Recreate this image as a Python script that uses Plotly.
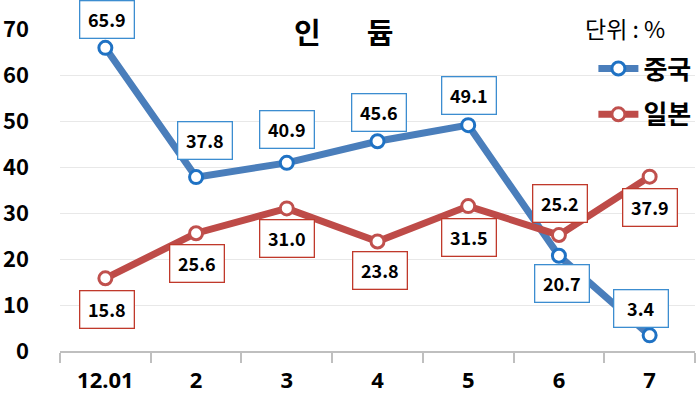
import plotly.graph_objects as go

categories = ["12.01", "2", "3", "4", "5", "6", "7"]
china = [65.9, 37.8, 40.9, 45.6, 49.1, 20.7, 3.4]
japan = [15.8, 25.6, 31.0, 23.8, 31.5, 25.2, 37.9]
y_ticks = [0, 10, 20, 30, 40, 50, 60, 70]

# label offsets (pixels) relative to each point
china_off = [(2, 28), (9, 37), (0, 33), (1, 29), (1, 30), (3, -28), (-9, 27)]
japan_off = [(2, -31), (1, -30), (0, -30), (2, -29), (1, -31), (1, 32), (0, -31)]

FONT = "Noto Sans CJK KR"
NUMFONT = "Noto Sans"
BLUE = "#4A7EBB"
BLUE_M = "#1F72C4"
BLUE_B = "#3C8DD0"
RED = "#BE4B48"
RED_M = "#C0504D"
RED_B = "#C0392B"

fig = go.Figure()
fig.add_trace(go.Scatter(
    x=categories, y=china, name="중국", mode="lines+markers", legendgroup="a",
    line=dict(color=BLUE, width=7),
    marker=dict(symbol="circle", size=13, color="white", line=dict(color=BLUE_M, width=3)),
))
fig.add_trace(go.Scatter(
    x=categories, y=japan, name="일본", mode="lines+markers", legendgroup="b",
    line=dict(color=RED, width=7),
    marker=dict(symbol="circle", size=13, color="white", line=dict(color=RED_M, width=3)),
))

for i, (v, (dx, dy)) in enumerate(zip(china, china_off)):
    fig.add_annotation(x=i, y=v, text=f"{v:.1f}", showarrow=False, xshift=dx, yshift=dy,
                       font=dict(family=FONT, size=18, color="black", weight="bold"),
                       width=43, bgcolor="white", bordercolor=BLUE_B, borderwidth=1.3, borderpad=5)
for i, (v, (dx, dy)) in enumerate(zip(japan, japan_off)):
    fig.add_annotation(x=i, y=v, text=f"{v:.1f}", showarrow=False, xshift=dx, yshift=dy,
                       font=dict(family=FONT, size=18, color="black", weight="bold"),
                       width=43, bgcolor="white", bordercolor=RED_B, borderwidth=1.3, borderpad=5)

fig.add_annotation(xref="paper", yref="paper", x=0.447, xanchor="center", y=1.0, yshift=-2,
                   text="인&nbsp;&nbsp;&nbsp;&nbsp;&nbsp;&nbsp;&nbsp;듐",
                   showarrow=False, font=dict(family=FONT, size=29, color="black", weight="bold"),
                   yanchor="middle")
fig.add_annotation(xref="paper", yref="paper", x=0.89, xanchor="center", y=1.0, yshift=1,
                   text="단위 : %",
                   showarrow=False, font=dict(family=FONT, size=23, color="black"),
                   yanchor="middle")

fig.update_layout(
    width=700, height=398,
    margin=dict(l=60, r=5, t=29, b=47, autoexpand=False),
    paper_bgcolor="white", plot_bgcolor="white",
    font=dict(family=FONT, color="black"),
    showlegend=True,
    legend=dict(x=0.84, xanchor="left", y=0.95, yanchor="top",
                font=dict(family=FONT, size=26, color="black", weight="bold"),
                tracegroupgap=9, bgcolor="rgba(0,0,0,0)", itemwidth=40),
    xaxis=dict(type="category", showgrid=False, showline=True, linecolor="#BFBFBF", linewidth=1.5,
               ticks="outside", tickson="boundaries", ticklen=10, tickcolor="#BFBFBF", tickwidth=1.5,
               tickfont=dict(family=NUMFONT, size=22, color="black", weight="bold"),
               ticklabelstandoff=9, automargin=False,
               range=[-0.5, 6.5]),
    yaxis=dict(range=[0, 70], tickvals=y_ticks, showgrid=True, gridcolor="#E8E8E8", gridwidth=1,
               zeroline=False, showline=False, ticks="", automargin=False, ticklabelstandoff=30,
               tickfont=dict(family=FONT, size=22, color="black", weight="bold")),
)

fig.write_html("out.html", config={"displayModeBar": False},
               post_script="document.body.style.margin='0';document.body.style.padding='0';")
